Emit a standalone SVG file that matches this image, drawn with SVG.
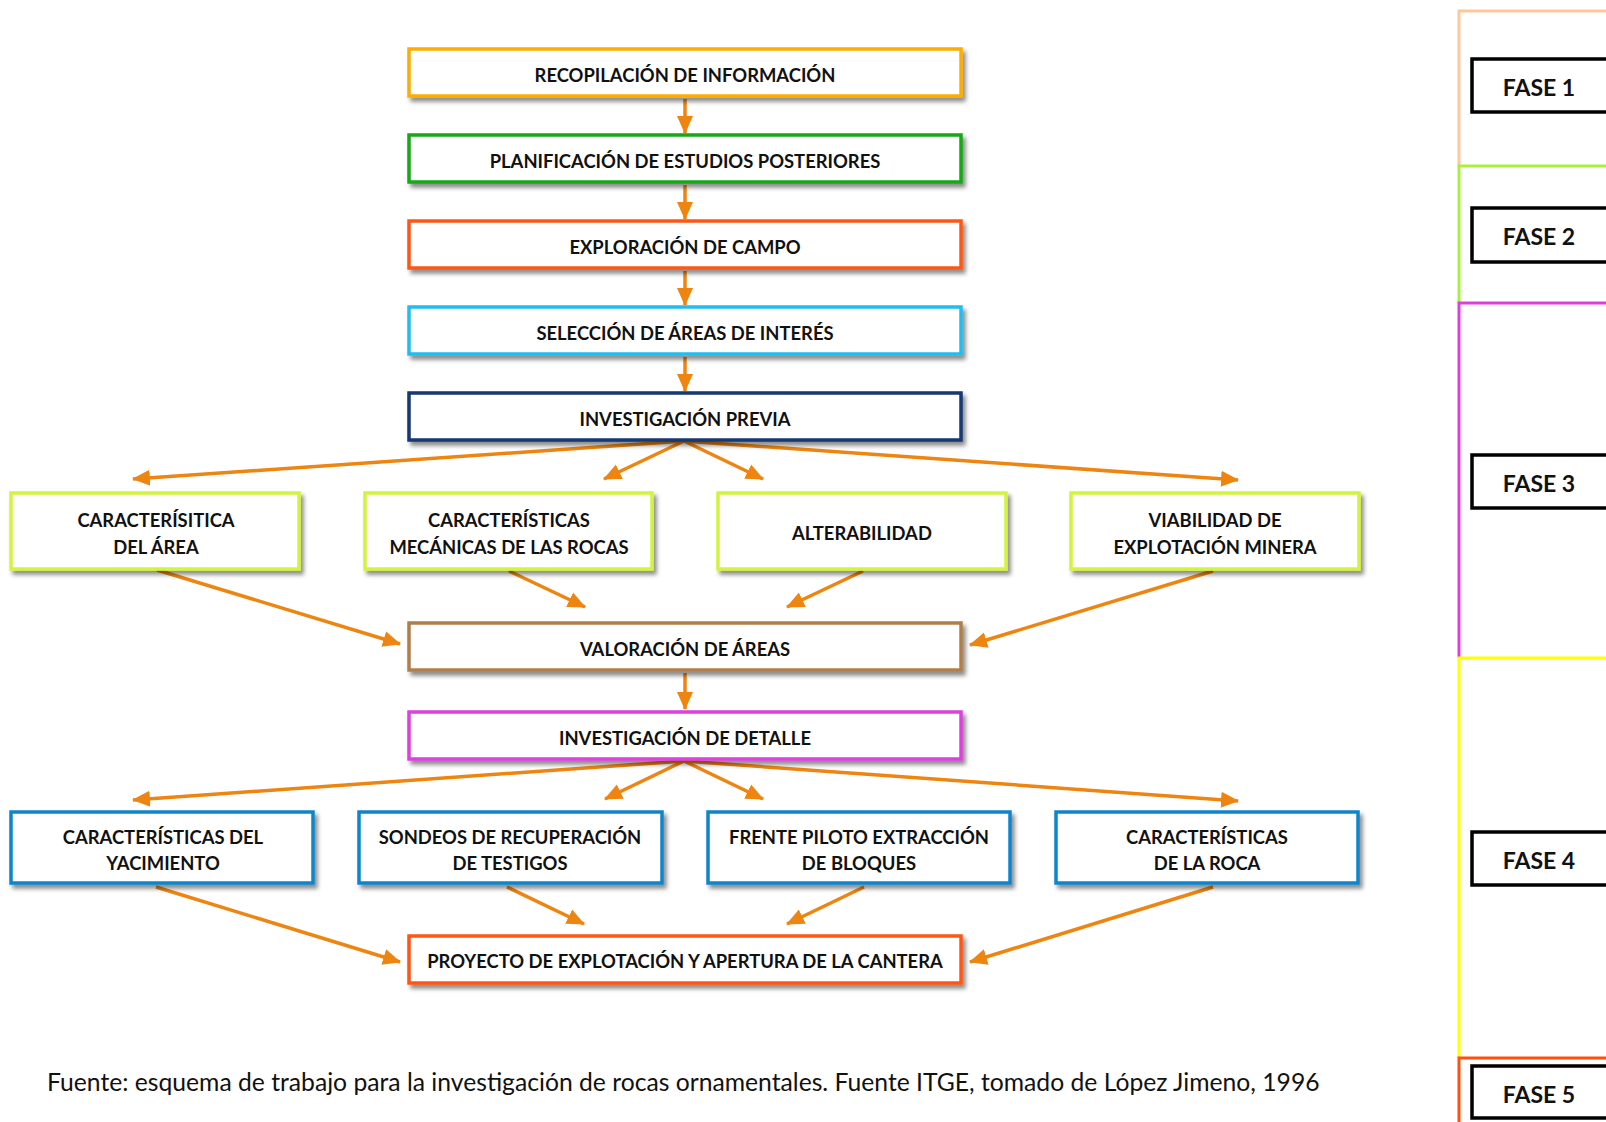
<svg xmlns="http://www.w3.org/2000/svg" width="1606" height="1122" viewBox="0 0 1606 1122">
  <defs>
    <filter id="shadow" x="-10%" y="-30%" width="120%" height="170%">
      <feDropShadow dx="3" dy="4" stdDeviation="2" flood-color="#000" flood-opacity="0.45"/>
    </filter>
    <marker id="head" markerUnits="userSpaceOnUse" markerWidth="18" markerHeight="18" viewBox="0 0 18 18" refX="17" refY="9" orient="auto">
      <path d="M0,1 L18,9 L0,17 Z" fill="#EE8510"/>
    </marker>
  </defs>
  <style>
    .box { fill: #fff; stroke-width: 3.5; filter: url(#shadow); }
    .lbl { font-family: Lato, "Liberation Sans", sans-serif; font-weight: 700; font-size: 18.4px; fill: #111; text-anchor: middle; dominant-baseline: central; }
    .conn line { stroke: #EE8510; stroke-width: 3.5; marker-end: url(#head); }
    .phase { fill: none; stroke-width: 3; }
    .ftag { fill: #fff; stroke: #000; stroke-width: 3.5; }
    .flbl { font-family: Lato, "Liberation Sans", sans-serif; font-weight: 700; font-size: 23px; fill: #111; text-anchor: middle; dominant-baseline: central; }
    .note { font-family: Lato, "Liberation Sans", sans-serif; font-size: 24.7px; fill: #111; dominant-baseline: central; }
  </style>
  <rect width="1606" height="1122" fill="#fff"/>

  <!-- phase column -->
  <g id="phases">
    <path class="phase" d="M1606,11 H1459 V166" stroke="#FCC89B"/>
    <path class="phase" d="M1606,166 H1459 V303" stroke="#A8F040"/>
    <path class="phase" d="M1606,303 H1459 V658" stroke="#DD3FDD"/>
    <path class="phase" d="M1606,658 H1459 V1058" stroke="#FFFF00"/>
    <path class="phase" d="M1606,1058 H1459 V1124" stroke="#FF5010"/>
    <g id="fase1"><rect class="ftag" x="1472" y="59" width="160" height="53"/><text class="flbl" x="1539" y="87">FASE 1</text></g>
    <g id="fase2"><rect class="ftag" x="1472" y="208" width="160" height="54"/><text class="flbl" x="1539" y="236">FASE 2</text></g>
    <g id="fase3"><rect class="ftag" x="1472" y="455" width="160" height="53"/><text class="flbl" x="1539" y="483">FASE 3</text></g>
    <g id="fase4"><rect class="ftag" x="1472" y="832" width="160" height="53"/><text class="flbl" x="1539" y="860">FASE 4</text></g>
    <g id="fase5"><rect class="ftag" x="1472" y="1066" width="160" height="52"/><text class="flbl" x="1539" y="1094">FASE 5</text></g>
  </g>

  <!-- connectors -->
  <g id="connectors" class="conn">
    <line x1="685" y1="99" x2="685" y2="133"/>
    <line x1="685" y1="185" x2="685" y2="219"/>
    <line x1="685" y1="271" x2="685" y2="305"/>
    <line x1="685" y1="357" x2="685" y2="391"/>

    <line x1="684" y1="441" x2="133" y2="479"/>
    <line x1="684" y1="441" x2="604" y2="479"/>
    <line x1="684" y1="441" x2="763" y2="479"/>
    <line x1="684" y1="441" x2="1238" y2="480"/>

    <line x1="157" y1="570" x2="400" y2="644"/>
    <line x1="509" y1="571" x2="585" y2="607"/>
    <line x1="863" y1="571" x2="787" y2="607"/>
    <line x1="1213" y1="571" x2="970" y2="645"/>

    <line x1="685" y1="673" x2="685" y2="709"/>

    <line x1="684" y1="761" x2="133" y2="800"/>
    <line x1="684" y1="761" x2="605" y2="799"/>
    <line x1="684" y1="761" x2="763" y2="799"/>
    <line x1="684" y1="761" x2="1238" y2="801"/>

    <line x1="156" y1="887" x2="400" y2="962"/>
    <line x1="507" y1="887" x2="584" y2="924"/>
    <line x1="864" y1="887" x2="787" y2="924"/>
    <line x1="1213" y1="887" x2="970" y2="962"/>
  </g>

  <!-- main sequence -->
  <g id="recopilacion"><rect class="box" x="409" y="49" width="552" height="47" stroke="#FFAC00"/><text class="lbl" x="685" y="75">RECOPILACIÓN DE INFORMACIÓN</text></g>
  <g id="planificacion"><rect class="box" x="409" y="135" width="552" height="47" stroke="#13A813"/><text class="lbl" x="685" y="160.5">PLANIFICACIÓN DE ESTUDIOS POSTERIORES</text></g>
  <g id="exploracion"><rect class="box" x="409" y="221" width="552" height="47" stroke="#FF5715"/><text class="lbl" x="685" y="246.5">EXPLORACIÓN DE CAMPO</text></g>
  <g id="seleccion"><rect class="box" x="409" y="307" width="552" height="47" stroke="#22BDEE"/><text class="lbl" x="685" y="332.5">SELECCIÓN DE ÁREAS DE INTERÉS</text></g>
  <g id="inv-previa"><rect class="box" x="409" y="393" width="552" height="47" stroke="#163773"/><text class="lbl" x="685" y="418.5">INVESTIGACIÓN PREVIA</text></g>

  <!-- previous research branches -->
  <g id="car-area"><rect class="box" x="11" y="493" width="288" height="76" stroke="#D2F43C"/><text class="lbl" x="156" y="520">CARACTERÍSITICA</text><text class="lbl" x="156" y="547">DEL ÁREA</text></g>
  <g id="car-mecanicas"><rect class="box" x="365" y="493" width="287" height="76" stroke="#D2F43C"/><text class="lbl" x="509" y="520">CARACTERÍSTICAS</text><text class="lbl" x="509" y="547">MECÁNICAS DE LAS ROCAS</text></g>
  <g id="alterabilidad"><rect class="box" x="718" y="493" width="288" height="76" stroke="#D2F43C"/><text class="lbl" x="862" y="533">ALTERABILIDAD</text></g>
  <g id="viabilidad"><rect class="box" x="1071" y="493" width="288" height="76" stroke="#D2F43C"/><text class="lbl" x="1215" y="520">VIABILIDAD DE</text><text class="lbl" x="1215" y="547">EXPLOTACIÓN MINERA</text></g>

  <g id="valoracion"><rect class="box" x="409" y="623" width="552" height="47" stroke="#B07F4A"/><text class="lbl" x="685" y="648.5">VALORACIÓN DE ÁREAS</text></g>
  <g id="inv-detalle"><rect class="box" x="409" y="712" width="552" height="47" stroke="#DD3FDD"/><text class="lbl" x="685" y="737.5">INVESTIGACIÓN DE DETALLE</text></g>

  <!-- detailed research branches -->
  <g id="car-yacimiento"><rect class="box" x="11" y="812" width="302" height="71" stroke="#0B85CC"/><text class="lbl" x="163" y="836.5">CARACTERÍSTICAS DEL</text><text class="lbl" x="163" y="862.5">YACIMIENTO</text></g>
  <g id="sondeos"><rect class="box" x="359" y="812" width="303" height="71" stroke="#0B85CC"/><text class="lbl" x="510" y="836.5">SONDEOS DE RECUPERACIÓN</text><text class="lbl" x="510" y="862.5">DE TESTIGOS</text></g>
  <g id="frente-piloto"><rect class="box" x="708" y="812" width="302" height="71" stroke="#0B85CC"/><text class="lbl" x="859" y="836.5">FRENTE PILOTO EXTRACCIÓN</text><text class="lbl" x="859" y="862.5">DE BLOQUES</text></g>
  <g id="car-roca"><rect class="box" x="1056" y="812" width="302" height="71" stroke="#0B85CC"/><text class="lbl" x="1207" y="836.5">CARACTERÍSTICAS</text><text class="lbl" x="1207" y="862.5">DE LA ROCA</text></g>

  <g id="proyecto"><rect class="box" x="409" y="936" width="552" height="47" stroke="#FF5715"/><text class="lbl" x="685" y="961">PROYECTO DE EXPLOTACIÓN Y APERTURA DE LA CANTERA</text></g>

  <text class="note" x="47" y="1081">Fuente: esquema de trabajo para la investigación de rocas ornamentales. Fuente ITGE, tomado de López Jimeno, 1996</text>
</svg>
